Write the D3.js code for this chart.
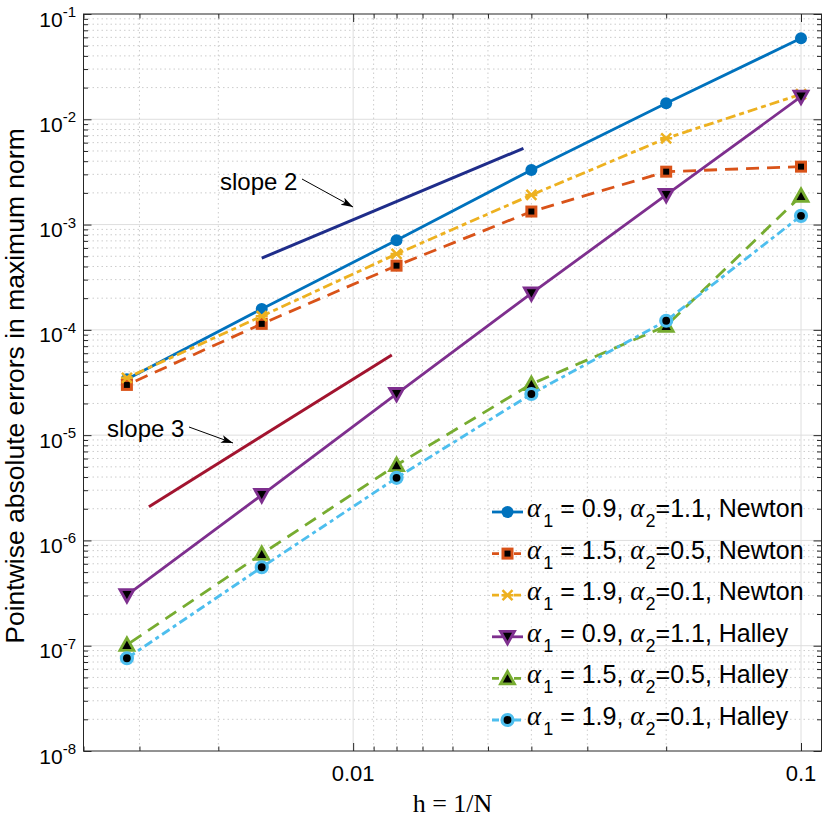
<!DOCTYPE html>
<html>
<head>
<meta charset="utf-8">
<script src="https://cdn.jsdelivr.net/npm/d3@7"></script>
<style>
  body { margin: 0; background: #fff; }
  text { font-family: "Liberation Sans", Arial, sans-serif; fill: #000; }
</style>
</head>
<body>
<svg id="chart"></svg>
<script>
const w = 823;
const h = 819;
const plotLeft = 83.5;
const plotRight = 821.5;
const plotTop = 14;
const plotBottom = 751;

// step sizes h = 1/N
const hValues = [0.1, 0.05, 0.025, 0.0125, 0.00625, 0.003125];

// errors
const newton09 = [0.0587, 0.0142, 0.0033, 7.1e-4, 1.58e-4, 3.4e-5];
const newton15 = [3.55e-3, 3.18e-3, 1.33e-3, 4.07e-4, 1.14e-4, 3.0e-5];
const newton19 = [0.0173, 6.6e-3, 1.91e-3, 5.26e-4, 1.35e-4, 3.5e-5];
const halley09 = [0.0164, 1.91e-3, 2.22e-4, 2.46e-5, 2.7e-6, 3.03e-7];
const halley15 = [1.87e-3, 1.09e-4, 3.06e-5, 5.2e-6, 7.44e-7, 1.02e-7];
const halley19 = [1.21e-3, 1.22e-4, 2.46e-5, 3.93e-6, 5.56e-7, 7.6e-8];

// reference slope lines
const slope2X = [0.00625, 0.024];
const slope2Y = [4.8e-4, 5.3e-3];
const slope3X = [0.0035, 0.0122];
const slope3Y = [2.09e-6, 5.78e-5];

// axis ticks (x axis is really N = 10..400 shown as h)
const xMajor = [0.01, 0.1];
const xMinorN = [20, 30, 40, 50, 60, 70, 80, 90, 200, 300, 400];
const xTickLabels = ["0.01", "0.1"];
const yExponents = [-8, -7, -6, -5, -4, -3, -2, -1];

const legendLabels = [
  ["1", " = 0.9, ", "2", "=1.1, Newton"],
  ["1", " = 1.5, ", "2", "=0.5, Newton"],
  ["1", " = 1.9, ", "2", "=0.1, Newton"],
  ["1", " = 0.9, ", "2", "=1.1, Halley"],
  ["1", " = 1.5, ", "2", "=0.5, Halley"],
  ["1", " = 1.9, ", "2", "=0.1, Halley"],
];

const series = [
  { values: newton09, color: "#0072BD", dash: null, marker: "dot" },
  { values: newton15, color: "#D95319", dash: "13,8", marker: "square" },
  { values: newton19, color: "#EDB120", dash: "10,4,5,4", marker: "x" },
  { values: halley09, color: "#7E2F8E", dash: null, marker: "down" },
  { values: halley15, color: "#77AC30", dash: "13,8", marker: "up" },
  { values: halley19, color: "#4DBEEE", dash: "9,4,4,4", marker: "ring" },
];

const svg = d3.select("#chart").attr("width", w).attr("height", h);

const xScale = d3.scaleLog().domain([1 / 400, 1 / 9]).range([plotLeft, plotRight]);
const yScale = d3.scaleLog().domain([1e-8, 1e-1]).range([plotBottom, plotTop]);

// grid
const grid = svg.append("g");
const yMinor = [];
yExponents.slice(0, -1).forEach((e) => {
  for (let k = 2; k <= 9; k++) yMinor.push(k * Math.pow(10, e));
});
grid.selectAll(".ymin").data(yMinor).enter().append("line")
  .attr("x1", plotLeft).attr("x2", plotRight)
  .attr("y1", (d) => yScale(d)).attr("y2", (d) => yScale(d))
  .style("stroke", "#cccccc").style("stroke-dasharray", "1.5,3");
grid.selectAll(".xmin").data(xMinorN).enter().append("line")
  .attr("y1", plotTop).attr("y2", plotBottom)
  .attr("x1", (d) => xScale(1 / d)).attr("x2", (d) => xScale(1 / d))
  .style("stroke", "#cccccc").style("stroke-dasharray", "1.5,3");
grid.selectAll(".ymaj").data(yExponents.slice(1, -1)).enter().append("line")
  .attr("x1", plotLeft).attr("x2", plotRight)
  .attr("y1", (d) => yScale(Math.pow(10, d))).attr("y2", (d) => yScale(Math.pow(10, d)))
  .style("stroke", "#dedede");
grid.selectAll(".xmaj").data(xMajor).enter().append("line")
  .attr("y1", plotTop).attr("y2", plotBottom)
  .attr("x1", (d) => xScale(d)).attr("x2", (d) => xScale(d))
  .style("stroke", "#dedede");

// axes box with inward ticks on all sides
const axisColor = "#262626";
const axes = svg.append("g");
const xMinVals = xMinorN.map((n) => 1 / n);
const yMajVals = yExponents.map((e) => Math.pow(10, e));
const hAxes = [
  [d3.axisBottom(xScale).tickValues(xMajor).tickSize(-8), plotBottom],
  [d3.axisBottom(xScale).tickValues(xMinVals).tickSize(-4.5), plotBottom],
  [d3.axisTop(xScale).tickValues(xMajor).tickSize(-8), plotTop],
  [d3.axisTop(xScale).tickValues(xMinVals).tickSize(-4.5), plotTop],
];
const vAxes = [
  [d3.axisLeft(yScale).tickValues(yMajVals).tickSize(-8), plotLeft],
  [d3.axisLeft(yScale).tickValues(yMinor).tickSize(-4.5), plotLeft],
  [d3.axisRight(yScale).tickValues(yMajVals).tickSize(-8), plotRight],
  [d3.axisRight(yScale).tickValues(yMinor).tickSize(-4.5), plotRight],
];
hAxes.forEach(([ax, ty]) => {
  axes.append("g").attr("transform", "translate(0," + ty + ")").call(ax.tickFormat(""));
});
vAxes.forEach(([ax, tx]) => {
  axes.append("g").attr("transform", "translate(" + tx + ",0)").call(ax.tickFormat(""));
});
axes.selectAll("path.domain").remove();
axes.selectAll("line").style("stroke", axisColor);
axes.append("rect")
  .attr("x", plotLeft).attr("y", plotTop)
  .attr("width", plotRight - plotLeft).attr("height", plotBottom - plotTop)
  .style("fill", "none").style("stroke", axisColor).style("stroke-width", 1);

// tick labels
svg.selectAll(".xlab").data(xMajor).enter().append("text")
  .attr("x", (d) => xScale(d)).attr("y", 781)
  .attr("text-anchor", "middle").style("font-size", "22px")
  .text((d, i) => xTickLabels[i]);

const yLabels = svg.selectAll(".ylab").data(yExponents).enter().append("text")
  .attr("x", 76).attr("y", (d) => yScale(Math.pow(10, d)) + 12.5)
  .attr("text-anchor", "end").style("font-size", "21px");
yLabels.append("tspan").text("10");
yLabels.append("tspan").attr("dy", -9.5).style("font-size", "15px").text((d) => "-" + Math.abs(d));

// axis labels
svg.append("text")
  .attr("x", (plotLeft + plotRight) / 2).attr("y", 812)
  .attr("text-anchor", "middle")
  .style("font-family", "'Liberation Serif', 'DejaVu Serif', serif")
  .style("font-size", "26px")
  .text("h = 1/N");
svg.append("text")
  .attr("transform", "translate(24,386) rotate(-90)")
  .attr("text-anchor", "middle")
  .style("font-size", "26.5px")
  .text("Pointwise absolute errors in maximum norm");

// slope reference lines
const line = d3.line().x((d) => xScale(d[0])).y((d) => yScale(d[1]));
svg.append("path").attr("d", line(d3.zip(slope2X, slope2Y)))
  .style("fill", "none").style("stroke", "#1f2d8a").style("stroke-width", 3);
svg.append("path").attr("d", line(d3.zip(slope3X, slope3Y)))
  .style("fill", "none").style("stroke", "#A2142F").style("stroke-width", 3);

// marker drawing
const drawMarker = (g, type, color) => {
  if (type === "dot") {
    g.append("circle").attr("r", 6).style("fill", color);
  } else if (type === "square") {
    g.append("rect").attr("x", -4.5).attr("y", -4.5).attr("width", 9).attr("height", 9)
      .style("fill", "#000").style("stroke", color).style("stroke-width", 3);
  } else if (type === "x") {
    g.append("path").attr("d", "M-5,-5L5,5M-5,5L5,-5M-6,0L6,0")
      .style("stroke", color).style("stroke-width", 2.5);
  } else if (type === "down") {
    g.append("path").attr("d", "M-7,-5.5L7,-5.5L0,7Z")
      .style("fill", "#000").style("stroke", color).style("stroke-width", 2.8);
  } else if (type === "up") {
    g.append("path").attr("d", "M-7,5.5L7,5.5L0,-7Z")
      .style("fill", "#000").style("stroke", color).style("stroke-width", 2.8);
  } else if (type === "ring") {
    g.append("circle").attr("r", 5.5).style("fill", "#000")
      .style("stroke", color).style("stroke-width", 3.2);
  }
};

// data series
series.forEach((s) => {
  const pts = d3.zip(hValues, s.values);
  svg.append("path").attr("d", line(pts))
    .style("fill", "none").style("stroke", s.color).style("stroke-width", 2.8)
    .style("stroke-dasharray", s.dash);
  pts.forEach((p) => {
    const g = svg.append("g").attr("transform", "translate(" + xScale(p[0]) + "," + yScale(p[1]) + ")");
    drawMarker(g, s.marker, s.color);
  });
});

// annotations
svg.append("defs").append("marker")
  .attr("id", "arrow").attr("viewBox", "-12 -5 14 10")
  .attr("refX", 0).attr("refY", 0)
  .attr("markerWidth", 14).attr("markerHeight", 10)
  .attr("markerUnits", "userSpaceOnUse").attr("orient", "auto")
  .append("path").attr("d", "M0,0L-12,-4L-9,0L-12,4Z").style("fill", "#000");

svg.append("text").attr("x", 220).attr("y", 190).style("font-size", "24px").text("slope 2");
svg.append("line").attr("x1", 302).attr("y1", 179).attr("x2", 353).attr("y2", 207)
  .style("stroke", "#000").style("stroke-width", 1).attr("marker-end", "url(#arrow)");
svg.append("text").attr("x", 107).attr("y", 437).style("font-size", "24px").text("slope 3");
svg.append("line").attr("x1", 189).attr("y1", 427).attr("x2", 233).attr("y2", 443)
  .style("stroke", "#000").style("stroke-width", 1).attr("marker-end", "url(#arrow)");

// legend (no box)
const serif = "'Liberation Serif', 'DejaVu Serif', serif";
const legend = svg.append("g").attr("id", "legend");
legendLabels.forEach((lab, i) => {
  const base = 517 + i * 41.6;
  const s = series[i];
  legend.append("line").attr("x1", 492).attr("x2", 523)
    .attr("y1", base - 5).attr("y2", base - 5)
    .style("stroke", s.color).style("stroke-width", 2.8).style("stroke-dasharray", s.dash === null ? null : "7,4");
  drawMarker(legend.append("g").attr("transform", "translate(507.5," + (base - 5) + ")"), s.marker, s.color);
  const t = legend.append("text").attr("x", 527).attr("y", base).style("font-size", "25px");
  t.append("tspan").style("font-family", serif).style("font-style", "italic")
    .style("font-size", "27px").text("\u03b1");
  t.append("tspan").attr("dx", 2).attr("dy", 10).style("font-size", "18px").text(lab[0]);
  t.append("tspan").attr("dy", -10).text(lab[1]);
  t.append("tspan").style("font-family", serif).style("font-style", "italic")
    .style("font-size", "27px").text("\u03b1");
  t.append("tspan").attr("dx", 1).attr("dy", 10).style("font-size", "18px").text(lab[2]);
  t.append("tspan").attr("dy", -10).text(lab[3]);
});
</script>
</body>
</html>
